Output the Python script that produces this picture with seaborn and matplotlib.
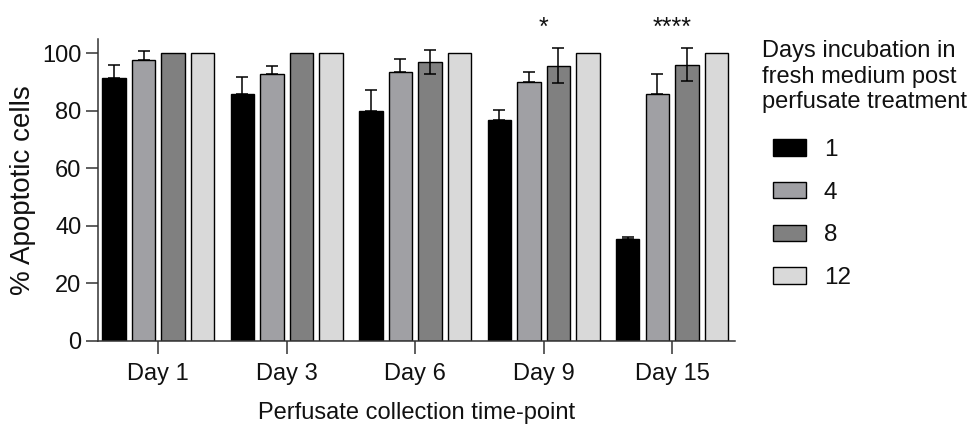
import matplotlib
matplotlib.use("Agg")
import matplotlib.pyplot as plt
import seaborn as sns
import pandas as pd

sns.set_style("ticks")
plt.rcParams["font.family"] = ["Liberation Sans", "DejaVu Sans"]
plt.rcParams["text.color"] = "#111111"
plt.rcParams["axes.labelcolor"] = "#111111"
plt.rcParams["xtick.labelcolor"] = "#111111"
plt.rcParams["ytick.labelcolor"] = "#111111"

days = ["Day 1", "Day 3", "Day 6", "Day 9", "Day 15"]
incubation = ["1", "4", "8", "12"]

values_1 = [91.5, 85.8, 79.9, 76.8, 35.4]
values_4 = [97.9, 93.0, 93.4, 90.2, 85.8]
values_8 = [100.0, 100.0, 97.0, 95.7, 96.1]
values_12 = [100.0, 100.0, 100.0, 100.0, 100.0]

err_1 = [4.4, 6.1, 7.4, 3.4, 0.9]
err_4 = [3.1, 2.6, 4.6, 3.4, 6.9]
err_8 = [0.0, 0.0, 4.3, 6.1, 5.7]
err_12 = [0.0, 0.0, 0.0, 0.0, 0.0]

stars = ["", "", "", "*", "****"]

colors = ["#000000", "#a0a0a4", "#808080", "#d9d9d9"]

all_values = [values_1, values_4, values_8, values_12]
all_errors = [err_1, err_4, err_8, err_12]
# only the "8" series shows the lower half of its error bar
two_sided = [False, False, True, False]

rows = []
for level, vals in zip(incubation, all_values):
    for day, v in zip(days, vals):
        rows.append({"day": day, "incubation": level, "value": v})
df = pd.DataFrame(rows)

fig = plt.figure(figsize=(9.77, 4.24), dpi=100)
ax = fig.add_axes([0.1003, 0.1958, 0.652, 0.712])

sns.barplot(data=df, x="day", y="value", hue="incubation", order=days,
            hue_order=incubation, palette=colors, edgecolor="black",
            linewidth=1.0, width=0.92, gap=0.21, errorbar=None, ax=ax)

for container, errs, both in zip(ax.containers, all_errors, two_sided):
    for bar, e in zip(container, errs):
        if e <= 0:
            continue
        xc = bar.get_x() + bar.get_width() / 2
        h = bar.get_height()
        lower = e if both else 0
        ax.errorbar(xc, h, yerr=[[lower], [e]], fmt="none", ecolor="black",
                    elinewidth=1.1, capsize=4, capthick=1.1, zorder=5)

for i, s in enumerate(stars):
    if s:
        ax.text(i, 106.6, s, ha="center", va="baseline", fontsize=18, clip_on=False)

ax.set_ylim(0, 105)
ax.set_xlim(-0.47, 4.49)
ax.set_yticks([0, 20, 40, 60, 80, 100])
ax.set_ylabel("% Apoptotic cells", fontsize=20, labelpad=4)
ax.set_xlabel("Perfusate collection time-point", fontsize=17, labelpad=12)
ax.tick_params(axis="both", labelsize=17, length=9, width=1.1, color="#333333")
ax.tick_params(axis="x", pad=7)
ax.tick_params(axis="y", pad=3)
sns.despine(ax=ax)
for sp in ["left", "bottom"]:
    ax.spines[sp].set_linewidth(1.1)
    ax.spines[sp].set_color("#333333")

fig.text(0.78, 0.905, "Days incubation in\nfresh medium post\nperfusate treatment",
         fontsize=17, ha="left", va="top", linespacing=1.2)

handles, labels = ax.get_legend_handles_labels()
ax.legend(handles, labels, loc="upper left", bbox_to_anchor=(0.791, 0.672),
          bbox_transform=fig.transFigure, frameon=False, fontsize=17.5,
          handlelength=1.35, handleheight=0.65, handletextpad=0.75, labelspacing=0.85,
          borderpad=0, borderaxespad=0)

fig.savefig("out.png", dpi=100)
